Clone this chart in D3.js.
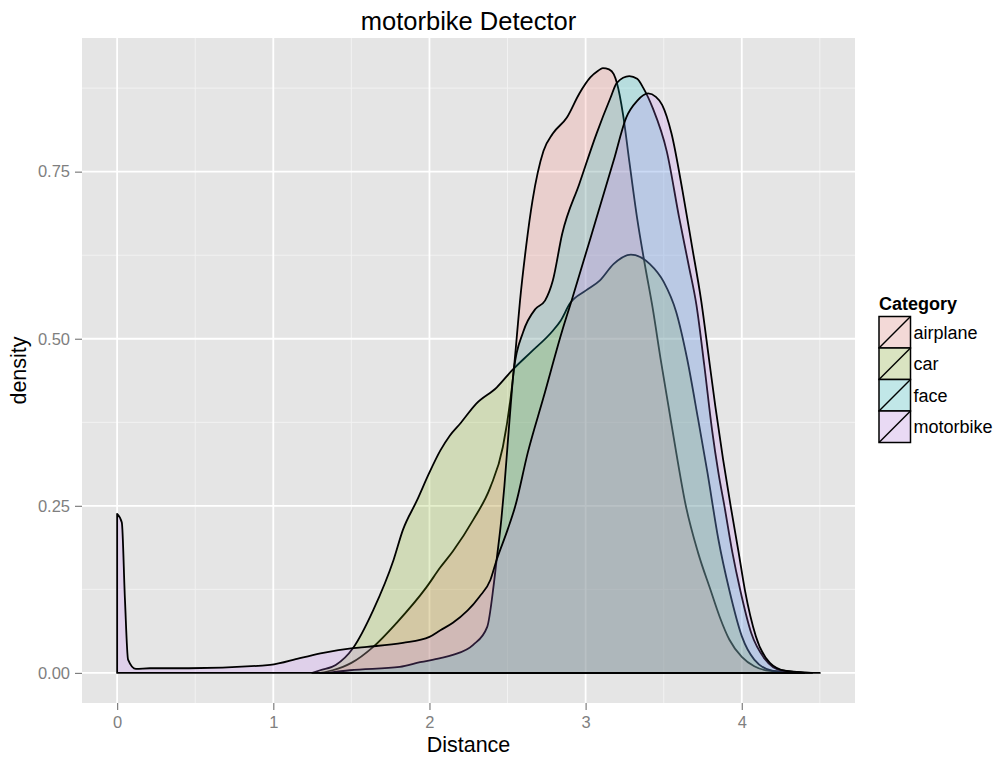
<!DOCTYPE html>
<html>
<head>
<meta charset="utf-8">
<script src="https://cdn.jsdelivr.net/npm/d3@7"></script>
<style>
  html, body { margin: 0; padding: 0; background: #ffffff; }
  svg { display: block; font-family: "Liberation Sans", Arial, Helvetica, sans-serif; }
</style>
</head>
<body>
<svg id="chart" width="1002" height="761"></svg>
<script>
// Density estimates of detector distance, one curve per category
const categories = ["airplane", "car", "face", "motorbike"];
const colors = ["#F8766D", "#7CAE00", "#00BFC4", "#C77CFF"];

const airplaneX = [1.30, 1.38, 1.50, 1.64, 1.79, 1.98, 2.07, 2.15, 2.28, 2.39, 2.47, 2.52, 2.54, 2.56, 2.58, 2.62, 2.66, 2.73, 2.79, 2.88, 2.96, 3.03, 3.08, 3.11, 3.15, 3.18, 3.20, 3.24, 3.28, 3.33, 3.38, 3.43, 3.48, 3.53, 3.58, 3.64, 3.72, 3.80, 3.86, 3.92, 4.00, 4.08, 4.18, 4.40];
const airplaneY = [0.000, 0.004, 0.015, 0.039, 0.075, 0.128, 0.158, 0.182, 0.229, 0.278, 0.338, 0.412, 0.453, 0.505, 0.557, 0.640, 0.707, 0.781, 0.807, 0.831, 0.867, 0.891, 0.901, 0.905, 0.903, 0.896, 0.883, 0.835, 0.765, 0.680, 0.610, 0.545, 0.470, 0.400, 0.330, 0.252, 0.180, 0.124, 0.083, 0.050, 0.024, 0.010, 0.003, 0.000];

const carX = [1.25, 1.30, 1.40, 1.51, 1.64, 1.77, 1.83, 1.92, 2.00, 2.07, 2.13, 2.20, 2.30, 2.43, 2.53, 2.65, 2.79, 2.84, 2.90, 3.00, 3.09, 3.18, 3.29, 3.41, 3.50, 3.58, 3.65, 3.72, 3.78, 3.85, 3.92, 4.00, 4.08, 4.20, 4.40];
const carY = [0.000, 0.004, 0.012, 0.037, 0.094, 0.169, 0.214, 0.258, 0.300, 0.333, 0.355, 0.374, 0.403, 0.427, 0.453, 0.480, 0.512, 0.527, 0.553, 0.572, 0.587, 0.612, 0.626, 0.612, 0.585, 0.540, 0.470, 0.380, 0.300, 0.200, 0.124, 0.055, 0.020, 0.003, 0.000];

const faceX = [1.35, 1.49, 1.81, 1.94, 2.07, 2.15, 2.28, 2.37, 2.41, 2.43, 2.46, 2.48, 2.50, 2.52, 2.54, 2.60, 2.68, 2.74, 2.79, 2.85, 2.96, 3.07, 3.16, 3.20, 3.28, 3.33, 3.37, 3.43, 3.52, 3.60, 3.66, 3.71, 3.76, 3.81, 3.85, 3.89, 3.94, 3.99, 4.06, 4.15, 4.25, 4.45];
const faceY = [0.000, 0.004, 0.009, 0.016, 0.022, 0.027, 0.042, 0.069, 0.129, 0.169, 0.229, 0.280, 0.340, 0.400, 0.453, 0.510, 0.545, 0.557, 0.587, 0.657, 0.732, 0.807, 0.861, 0.883, 0.893, 0.889, 0.875, 0.845, 0.780, 0.680, 0.610, 0.550, 0.460, 0.363, 0.300, 0.248, 0.180, 0.124, 0.060, 0.020, 0.004, 0.000];

const motorbikeX = [0.00, 0.03, 0.05, 0.07, 0.12, 0.21, 0.46, 0.98, 1.17, 1.32, 1.51, 1.60, 1.83, 2.00, 2.07, 2.15, 2.32, 2.39, 2.43, 2.50, 2.55, 2.63, 2.73, 2.85, 2.91, 3.07, 3.18, 3.26, 3.33, 3.40, 3.45, 3.49, 3.55, 3.62, 3.68, 3.74, 3.79, 3.83, 3.88, 3.93, 3.98, 4.02, 4.09, 4.18, 4.28, 4.40, 4.50];
const motorbikeY = [0.238, 0.225, 0.110, 0.020, 0.006, 0.007, 0.007, 0.012, 0.022, 0.030, 0.037, 0.039, 0.045, 0.054, 0.064, 0.075, 0.114, 0.139, 0.169, 0.214, 0.250, 0.330, 0.412, 0.512, 0.557, 0.681, 0.767, 0.831, 0.856, 0.867, 0.862, 0.850, 0.807, 0.722, 0.640, 0.557, 0.470, 0.400, 0.320, 0.248, 0.180, 0.124, 0.055, 0.015, 0.003, 0.0005, 0.000];

const seriesX = [airplaneX, carX, faceX, motorbikeX];
const seriesY = [airplaneY, carY, faceY, motorbikeY];

const xTicks = [0, 1, 2, 3, 4];
const yTicks = [0, 0.25, 0.5, 0.75];
const xMinor = [0.5, 1.5, 2.5, 3.5, 4.5];
const yMinor = [0.125, 0.375, 0.625, 0.875];

const svg = d3.select("#chart");
const panel = { left: 82, right: 855, top: 38, bottom: 703 };

const x = d3.scaleLinear().domain([-0.225, 4.725]).range([panel.left, panel.right]);
const y = d3.scaleLinear().domain([-0.045, 0.95]).range([panel.bottom, panel.top]);

// panel background
svg.append("rect")
  .attr("x", panel.left).attr("y", panel.top)
  .attr("width", panel.right - panel.left).attr("height", panel.bottom - panel.top)
  .attr("fill", "#E5E5E5");

const grid = svg.append("g");
grid.selectAll(".vminor").data(xMinor).join("line")
  .attr("x1", d => x(d)).attr("x2", d => x(d))
  .attr("y1", panel.top).attr("y2", panel.bottom)
  .attr("stroke", "#F2F2F2").attr("stroke-width", 1);
grid.selectAll(".hminor").data(yMinor).join("line")
  .attr("y1", d => y(d)).attr("y2", d => y(d))
  .attr("x1", panel.left).attr("x2", panel.right)
  .attr("stroke", "#F2F2F2").attr("stroke-width", 1);
grid.selectAll(".vmajor").data(xTicks).join("line")
  .attr("x1", d => x(d)).attr("x2", d => x(d))
  .attr("y1", panel.top).attr("y2", panel.bottom)
  .attr("stroke", "#FFFFFF").attr("stroke-width", 1.8);
grid.selectAll(".hmajor").data(yTicks).join("line")
  .attr("y1", d => y(d)).attr("y2", d => y(d))
  .attr("x1", panel.left).attr("x2", panel.right)
  .attr("stroke", "#FFFFFF").attr("stroke-width", 1.8);

// density areas, outlined all round
const area = d3.area()
  .x(d => x(d[0]))
  .y0(y(0))
  .y1(d => y(d[1]))
  .curve(d3.curveMonotoneX);

const layers = svg.append("g");
categories.forEach((c, i) => {
  const pts = seriesX[i].map((v, j) => [v, seriesY[i][j]]);
  layers.append("path")
    .datum(pts)
    .attr("d", area)
    .attr("fill", colors[i])
    .attr("fill-opacity", 0.2)
    .attr("stroke", "#000000")
    .attr("stroke-width", 1.8)
    .attr("stroke-linejoin", "round");
});

// axes
const xAxis = d3.axisBottom(x).tickValues(xTicks).tickFormat(d3.format("d")).tickSize(7).tickPadding(6);
const yAxis = d3.axisLeft(y).tickValues(yTicks).tickFormat(d3.format(".2f")).tickSize(7).tickPadding(5);

const gx = svg.append("g").attr("transform", `translate(0,${panel.bottom})`).call(xAxis);
const gy = svg.append("g").attr("transform", `translate(${panel.left},0)`).call(yAxis);
[gx, gy].forEach(g => {
  g.select(".domain").remove();
  g.selectAll(".tick line").attr("stroke", "#7F7F7F").attr("stroke-width", 1.2);
  g.selectAll(".tick text").attr("fill", "#7F7F7F")
    .style("font-size", "16.5px").style("font-family", "Liberation Sans, Arial, sans-serif");
});

// titles
svg.append("text")
  .attr("x", (panel.left + panel.right) / 2).attr("y", 30)
  .attr("text-anchor", "middle").style("font-size", "25.5px").attr("fill", "#000")
  .text("motorbike Detector");
svg.append("text")
  .attr("x", (panel.left + panel.right) / 2).attr("y", 752)
  .attr("text-anchor", "middle").style("font-size", "21.5px").attr("fill", "#000")
  .text("Distance");
svg.append("text")
  .attr("transform", `translate(26,${(panel.top + panel.bottom) / 2}) rotate(-90)`)
  .attr("text-anchor", "middle").style("font-size", "21.5px").attr("fill", "#000")
  .text("density");

// legend
const legend = svg.append("g").attr("transform", "translate(879,0)");
legend.append("text")
  .attr("x", 0).attr("y", 310)
  .style("font-size", "18px").style("font-weight", "bold").attr("fill", "#000")
  .text("Category");
const keySize = 31.5;
categories.forEach((c, i) => {
  const top = 316.5 + i * keySize;
  legend.append("rect")
    .attr("x", 0).attr("y", top).attr("width", keySize).attr("height", keySize)
    .attr("fill", "#F2F2F2");
  legend.append("rect")
    .attr("x", 0).attr("y", top).attr("width", keySize).attr("height", keySize)
    .attr("fill", colors[i]).attr("fill-opacity", 0.2)
    .attr("stroke", "#000").attr("stroke-width", 1.5);
  legend.append("line")
    .attr("x1", 0).attr("y1", top + keySize).attr("x2", keySize).attr("y2", top)
    .attr("stroke", "#000").attr("stroke-width", 1.5);
  legend.append("text")
    .attr("x", keySize + 3).attr("y", top + keySize / 2 + 6.5)
    .style("font-size", "18px").attr("fill", "#000")
    .text(c);
});
</script>
</body>
</html>
